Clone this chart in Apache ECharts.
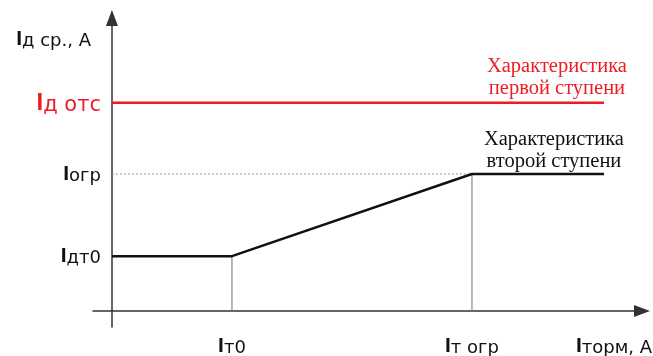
<!DOCTYPE html>
<html>
<head>
<meta charset="utf-8">
<script src="https://cdn.jsdelivr.net/npm/echarts@6/dist/echarts.min.js"></script>
<style>
  html, body { margin: 0; padding: 0; background: #fff; }
  #chart { width: 653px; height: 356px; }
</style>
</head>
<body>
<div id="chart"></div>
<script>
// Braking characteristic of a differential protection (two stages)
const xTickValues = [1, 3];
const xTickSubs = ['т0', 'т огр'];
const yTickValues = [2, 5, 7.6];
const yTickSubs = ['дт0', 'огр', 'д отс'];

// first stage: cut-off level
const stage1X = [0, 4.1];
const stage1Y = [7.6, 7.6];
// second stage: restrained characteristic
const stage2X = [0, 1, 3, 4.1];
const stage2Y = [2, 2, 5, 5];

const stage1Text = 'Характеристика\nпервой ступени';
const stage2Text = 'Характеристика\nвторой ступени';
const xName = 'торм, А';
const yName = 'д ср., А';

const RED = '#ec1c24';
const INK = '#111111';
const AXIS = '#333333';
const BOLD_SANS = 'Liberation Sans';
const SANS = 'DejaVu Sans';
const SERIF = 'Liberation Serif';

// "I" in bold with a regular-weight index after it
function tok(color, bigSize, subSize, lh) {
  return {
    I: { fontFamily: BOLD_SANS, fontSize: bigSize, fontWeight: 'bold', color: color, lineHeight: lh, verticalAlign: 'bottom' },
    s: { fontFamily: SANS, fontSize: subSize, color: color, lineHeight: lh, verticalAlign: 'bottom' }
  };
}
const base = tok(INK, 21, 18, 22);
const red = tok(RED, 24, 21, 26);
const rich = { I: base.I, s: base.s, Ir: red.I, sr: red.s };

function toPairs(xs, ys) { return xs.map((x, i) => [x, ys[i]]); }

function withEndLabel(pairs, text, color, offset, distance) {
  return pairs.map((p, i) => {
    if (i !== pairs.length - 1) return p;
    return {
      value: p,
      label: {
        show: true, position: 'top', distance: distance, offset: offset,
        formatter: text, color: color, fontFamily: SERIF, fontSize: 20.5,
        lineHeight: 22, align: 'center'
      }
    };
  });
}

// guide lines from the break points of the second stage
const kneeA = [stage2X[1], stage2Y[1]];
const kneeB = [stage2X[2], stage2Y[2]];

const chart = echarts.init(document.getElementById('chart'), null, { renderer: 'canvas' });
chart.setOption({
  animation: false,
  backgroundColor: '#ffffff',
  grid: { left: 93, right: 11, top: 18, bottom: 29, containLabel: false, outerBoundsMode: 'none' },
  xAxis: {
    type: 'value', min: -0.158, max: 4.417,
    splitLine: { show: false },
    axisTick: { show: false },
    axisLine: { onZero: true, lineStyle: { color: AXIS, width: 1.5 }, symbol: ['none', 'triangle'], symbolSize: [12, 16] },
    axisLabel: {
      customValues: xTickValues, margin: 8, rich: rich,
      formatter: v => '{I|I}{s|' + xTickSubs[xTickValues.indexOf(v)] + '}'
    },
    name: '{I|I}{s|' + xName + '}',
    nameLocation: 'end', nameGap: 10,
    nameTextStyle: { align: 'right', verticalAlign: 'top', padding: [24, 0, 0, 0], rich: rich }
  },
  yAxis: {
    type: 'value', min: -0.584, max: 10.69,
    splitLine: { show: false },
    axisTick: { show: false },
    axisLine: { onZero: true, lineStyle: { color: AXIS, width: 1.5 }, symbol: ['none', 'triangle'], symbolSize: [12, 16] },
    axisLabel: {
      customValues: yTickValues, margin: -8, rich: rich,
      formatter: v => {
        const i = yTickValues.indexOf(v);
        return i === 2 ? '{Ir|I}{sr|' + yTickSubs[i] + '}' : '{I|I}{s|' + yTickSubs[i] + '}';
      }
    },
    name: '{I|I}{s|' + yName + '}',
    nameLocation: 'end', nameGap: -21,
    nameTextStyle: { align: 'right', verticalAlign: 'middle', padding: [0, 21, 0, 0], rich: rich }
  },
  series: [
    {
      type: 'line', data: [[0, kneeB[1]], kneeB], symbol: 'none', silent: true,
      lineStyle: { color: '#9a9a9a', width: 1, type: [2, 2] }
    },
    {
      type: 'line', data: [[kneeA[0], 0], kneeA], symbol: 'none', silent: true,
      lineStyle: { color: '#6e6e6e', width: 1 }
    },
    {
      type: 'line', data: [[kneeB[0], 0], kneeB], symbol: 'none', silent: true,
      lineStyle: { color: '#8a8a8a', width: 1.2 }
    },
    {
      type: 'line', data: withEndLabel(toPairs(stage1X, stage1Y), stage1Text, RED, [-47, 0], 3),
      symbol: 'circle', symbolSize: 0, showSymbol: true, silent: true,
      lineStyle: { color: RED, width: 2.5 }
    },
    {
      type: 'line', data: withEndLabel(toPairs(stage2X, stage2Y), stage2Text, INK, [-50, 0], 1),
      symbol: 'circle', symbolSize: 0, showSymbol: true, silent: true,
      lineStyle: { color: INK, width: 2.5 }
    }
  ]
});
</script>
</body>
</html>
